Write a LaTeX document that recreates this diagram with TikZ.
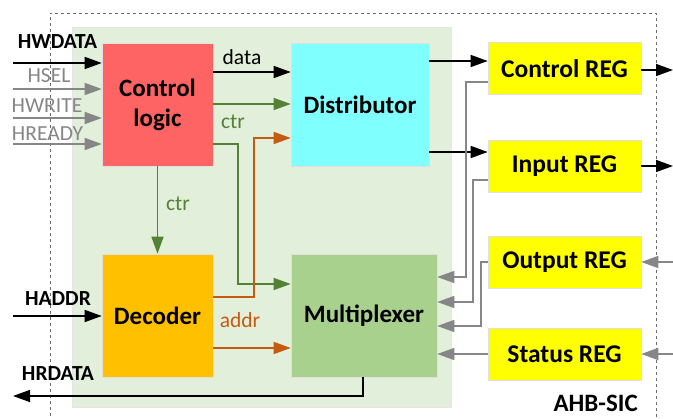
\documentclass[tikz,border=0pt]{standalone}
\usepackage{fontspec}
\setmainfont{Carlito}
\usetikzlibrary{arrows.meta}
\definecolor{ctrlred}{HTML}{FF6464}
\definecolor{distcyan}{HTML}{80FFFF}
\definecolor{decorange}{HTML}{FFC000}
\definecolor{muxgreen}{HTML}{A9D18E}
\definecolor{regyellow}{HTML}{FFFF00}
\definecolor{bggreen}{HTML}{E2EFDA}
\definecolor{siggreen}{HTML}{548235}
\definecolor{sigorange}{HTML}{C55A11}
\definecolor{siggray}{HTML}{868686}
\begin{document}
\begin{tikzpicture}[x=1pt,y=-1pt,
  blk/.style={draw=black!12,line width=0.6pt,inner sep=0pt,align=center,
    font=\fontsize{25}{30}\selectfont\bfseries},
  bigblk/.style={blk,minimum height=123pt},
  regblk/.style={blk,fill=regyellow,minimum width=153pt,minimum height=52pt,
    font=\fontsize{25.5}{30}\selectfont\bfseries},
  wire/.style={line width=1.5pt,-{Triangle[length=17pt,width=12pt]}},
  blackwire/.style={wire,draw=black},
  graywire/.style={wire,draw=siggray},
  greenwire/.style={wire,draw=siggreen},
  orangewire/.style={wire,draw=sigorange},
  lbl/.style={anchor=base,inner sep=0pt,font=\fontsize{21.5}{24}\selectfont},
  boldlbl/.style={lbl,font=\fontsize{21.5}{24}\selectfont\bfseries},
]
\useasboundingbox (0,0) rectangle (673,419);
% outer dashed boundary
\draw[siggray!80!black,dashed,line width=0.8pt] (50,440) -- (50,13) -- (656,13) -- (656,440);
% green background
\fill[bggreen] (72,27) rectangle (451,407);
\draw[black!10,line width=0.5pt] (72,27) rectangle (451,407);

% blocks
\node[bigblk,fill=ctrlred,minimum width=111pt] (ctrl) at (157.5,104.5) {Control\\logic};
\node[bigblk,fill=distcyan,minimum width=138pt] (dist) at (360,104.5) {Distributor};
\node[bigblk,fill=decorange,minimum width=111pt] (dec) at (157.5,315.5) {Decoder};
\node[bigblk,fill=muxgreen,minimum width=146pt] (mux) at (364,315.5) {Multiplexer};
\node[regblk] (creg) at (564.5,68.5) {Control REG};
\node[regblk] (ireg) at (564.5,166.5) {Input REG};
\node[regblk] (oreg) at (564.5,262.5) {Output REG};
\node[regblk] (sreg) at (564.5,354) {Status REG};

% free ends
\coordinate (hwdata) at (13,63);
\coordinate (hsel) at (13,89);
\coordinate (hwrite) at (13,118);
\coordinate (hready) at (13,144);
\coordinate (haddr) at (13,316);
\coordinate (hrdata) at (13,396);
\coordinate (cregout) at (673,70);
\coordinate (iregout) at (673,166);
\coordinate (oregin) at (673,262);
\coordinate (sregin) at (673,354);

% inputs to control logic
\draw[blackwire] (hwdata) -- (hwdata -| ctrl.west);
\draw[graywire] (hsel) -- (hsel -| ctrl.west);
\draw[graywire] (hwrite) -- (hwrite -| ctrl.west);
\draw[graywire] (hready) -- (hready -| ctrl.west);
\node[boldlbl] (lhwdata) at (57.5,49) {HWDATA};
\node[lbl,text=siggray] (lhsel) at (49,83) {HSEL};
\node[lbl,text=siggray] (lhwrite) at (47,113) {HWRITE};
\node[lbl,text=siggray] (lhready) at (47.5,141) {HREADY};

% control logic to distributor
\draw[blackwire] (ctrl.east |- 0,72) -- (dist.west |- 0,72);
\node[lbl] (ldata) at (242,65) {data};
\draw[greenwire] (ctrl.east |- 0,104) -- (dist.west |- 0,104);
\node[lbl,text=siggreen] (lctr1) at (233,129) {ctr};
\draw[greenwire] (ctrl.east |- 0,144) -- (238,144) -- (238,284) -- (mux.west |- 0,284);
\draw[greenwire] (ctrl.south) -- (dec.north);
\node[lbl,text=siggreen] (lctr2) at (178,211) {ctr};

% decoder
\draw[blackwire] (haddr) -- (haddr -| dec.west);
\node[boldlbl] (lhaddr) at (58,306) {HADDR};
\draw[orangewire] (dec.east |- 0,297) -- (254,297) -- (254,138) -- (dist.west |- 0,138);
\draw[orangewire] (dec.east |- 0,348) -- (mux.west |- 0,348);
\node[lbl,text=sigorange] (laddr) at (240,328) {addr};

% HRDATA
\draw[blackwire] (mux.south -| 363,0) -- (363,396) -- (hrdata);
\node[boldlbl] (lhrdata) at (58,381) {HRDATA};

% distributor to registers
\draw[blackwire] (dist.east |- 0,61) -- (creg.west |- 0,61);
\draw[blackwire] (dist.east |- 0,152) -- (ireg.west |- 0,152);
\draw[blackwire] (creg.east |- cregout) -- (cregout);
\draw[blackwire] (ireg.east |- iregout) -- (iregout);
\draw[graywire] (oregin) -- (oregin -| oreg.east);
\draw[graywire] (sregin) -- (sregin -| sreg.east);

% registers to multiplexer
\draw[graywire] (creg.west |- 0,82) -- (466,82) -- (466,277) -- (mux.east |- 0,277);
\draw[graywire] (ireg.west |- 0,180) -- (473,180) -- (473,302) -- (mux.east |- 0,302);
\draw[graywire] (oreg.west |- 0,262) -- (481,262) -- (481,326) -- (mux.east |- 0,326);
\draw[graywire] (sreg.west) -- (sreg.west -| mux.east);

\node[boldlbl,anchor=base east,font=\fontsize{25}{28}\selectfont\bfseries] (lsic) at (638,412) {AHB-SIC};
\end{tikzpicture}
\end{document}
